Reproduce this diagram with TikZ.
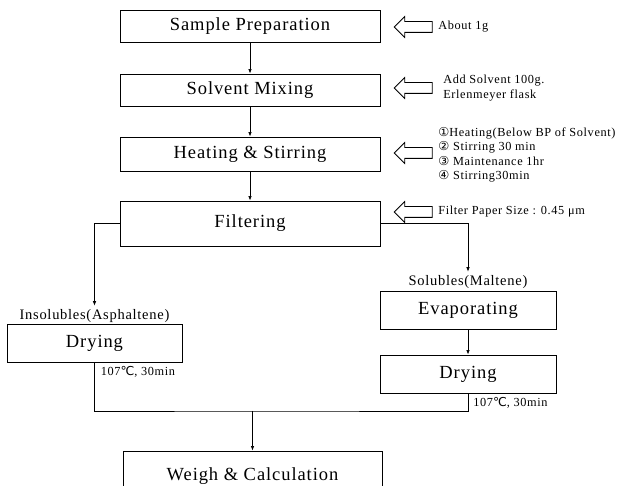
\documentclass[tikz,border=0pt]{standalone}
\usepackage{fontspec}
\setmainfont{Liberation Serif}[LetterSpace=5]
\newfontfamily\symfont{DejaVu Sans}
\usetikzlibrary{positioning}
\usetikzlibrary{shapes.arrows}
\usetikzlibrary{arrows.meta}
\tikzset{stepbox/.style={draw, line width=0.9pt, minimum width=260pt, font=\fontsize{18.5}{20}\selectfont}}
\tikzset{subbox/.style={draw, line width=0.9pt, minimum width=176pt, minimum height=38pt, font=\fontsize{18.5}{20}\selectfont}}
\tikzset{hollowarrow/.style={draw, line width=0.8pt, single arrow, shape border rotate=180, minimum height=38pt, inner sep=5pt, single arrow head extend=5pt}}
\tikzset{note/.style={inner sep=0pt, align=left, font=\fontsize{12.3}{14.5}\selectfont}}
\tikzset{branch/.style={font=\fontsize{14.5}{16}\selectfont}}

\begin{document}
\begin{tikzpicture}[x=1pt, y=-1pt, >={Latex[length=4.5pt,width=3.5pt]}, line width=0.7pt]
\useasboundingbox (0,0) rectangle (622,486);

\node[stepbox, minimum height=32pt] (prep) at (250,26) {Sample Preparation};
\node[stepbox, minimum height=32pt] (mix) at (250,90) {Solvent Mixing};
\node[stepbox, minimum height=34pt] (heat) at (250,154) {Heating \& Stirring};
\node[stepbox, minimum height=45pt] (filt) at (250,223.5) {Filtering};

\node[subbox, minimum width=175pt] (dryA) at (94.5,343) {Drying};
\node[subbox] (evap) at (468,310) {Evaporating};
\node[subbox] (dryM) at (468,374) {Drying};
\node[stepbox, minimum width=259pt, minimum height=50pt] (weigh) at (252.5,476) {Weigh \& Calculation};

\node[branch] (insol) at (94.5,316) {Insolubles(Asphaltene)};
\node[branch] (sol) at (468,282) {Solubles(Maltene)};

% hollow arrows with the side notes
\node[hollowarrow] (arr1) at (416,27) {};
\node[hollowarrow] (arr2) at (416,88) {};
\node[hollowarrow] (arr3) at (416,153) {};
\node[hollowarrow] (arr4) at (416,212) {};

\node[note, anchor=west] (note1) at (438,27) {About 1g};
\node[note, anchor=west] (note2) at (443,88) {Add Solvent 100g.\\Erlenmeyer flask};
\node[note, anchor=west] (note3) at (438,155) {{\symfont ①}Heating(Below BP of Solvent)\\{\symfont ②} Stirring 30 min\\{\symfont ③} Maintenance 1hr\\{\symfont ④} Stirring30min};
\node[note, anchor=west] (note4) at (438,212) {Filter Paper Size : 0.45 μm};

\draw[->] (prep) -- (mix);
\draw[->] (mix) -- (heat);
\draw[->] (heat) -- (filt);
\draw[->] (filt.west) -| (insol.north);
\draw[->] (filt.east) -| (sol.north);
\draw[->] (evap) -- (dryM);

\node[note, below right=4pt and 6pt of dryA.south] (tempA) {107{\symfont ℃}, 30min};
\node[note, below right=4pt and 5pt of dryM.south] (tempM) {107{\symfont ℃}, 30min};

\coordinate (join) at (252.5,411);
\draw (dryA.south) |- (join) -| (dryM.south);
\draw[->] (join) -- (weigh.north);

\end{tikzpicture}
\end{document}
